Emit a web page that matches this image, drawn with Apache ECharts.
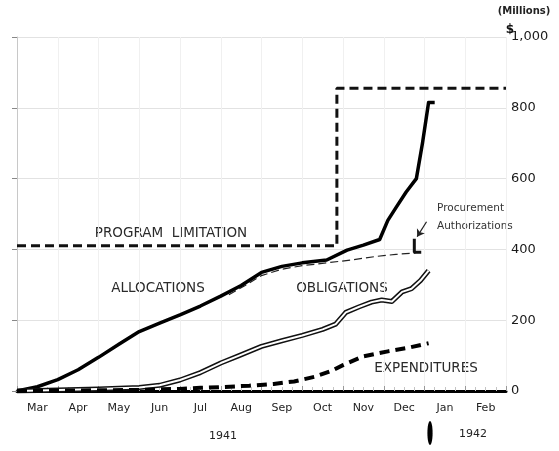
<!DOCTYPE html>
<html>
<head>
<meta charset="utf-8">
<script src="https://cdn.jsdelivr.net/npm/echarts@6/dist/echarts.min.js"></script>
<style>
  html, body { margin: 0; padding: 0; background: #fff; }
  #chart { width: 559px; height: 451px; }
</style>
</head>
<body>
<div id="chart"></div>
<script>
// x = months since 1 Mar 1941, y = $ millions
const months = ['Mar', 'Apr', 'May', 'Jun', 'Jul', 'Aug', 'Sep', 'Oct', 'Nov', 'Dec', 'Jan', 'Feb']
const yearLabels = ['1941', '1942']

const programLimitation = [[0, 410], [7.85, 410], [7.85, 855], [12, 855]]

const allocations = [
  [0, 0], [0.5, 12], [1.0, 32], [1.5, 60], [2.0, 95], [2.5, 132], [3.0, 168],
  [3.5, 192], [4.0, 215], [4.5, 240], [5.0, 268], [5.5, 298], [6.0, 335],
  [6.5, 352], [7.0, 362], [7.6, 370], [8.1, 398], [8.5, 412], [8.9, 428],
  [9.1, 482], [9.3, 518], [9.55, 562], [9.8, 600], [9.95, 700], [10.1, 815], [10.25, 815],
]

const authorizations = [
  [5.2, 272], [5.6, 298], [6.0, 326], [6.5, 344], [7.0, 354], [7.6, 362],
  [8.2, 370], [8.8, 380], [9.3, 386], [9.78, 390],
]
const authorizationsBracket = [[9.75, 430], [9.75, 392], [9.92, 392]]

const obligations = [
  [0, 0], [1.0, 3], [2.0, 6], [3.0, 10], [3.5, 16], [4.0, 31], [4.5, 52],
  [5.0, 79], [5.45, 100], [6.0, 126], [6.5, 142], [7.0, 157], [7.5, 174],
  [7.82, 189], [8.07, 222], [8.4, 238], [8.7, 251], [8.95, 257], [9.2, 253],
  [9.45, 280], [9.68, 289], [9.9, 312], [10.1, 340],
]

const expenditures = [
  [0, 0], [2.0, 2], [3.0, 3], [4.0, 6], [4.5, 9], [5.0, 11], [5.7, 15],
  [6.3, 20], [6.8, 27], [7.3, 40], [7.7, 56], [8.0, 73], [8.5, 98],
  [9.1, 112], [9.6, 122], [10.1, 135],
]

const chart = echarts.init(document.getElementById('chart'))

const labelFont = { fontFamily: 'DejaVu Sans', fontSize: 13.5, fill: '#2a2a2a' }

chart.setOption({
  animation: false,
  backgroundColor: '#fff',
  grid: { left: 17, right: 53, top: 37, bottom: 60 },
  xAxis: [
    {
      type: 'value',
      min: 0,
      max: 12,
      interval: 1,
      axisLabel: { show: false },
      axisLine: { lineStyle: { color: '#000', width: 3 } },
      axisTick: { show: true, inside: true, length: 5, lineStyle: { color: '#999' } },
      minorTick: { show: true, splitNumber: 4, length: 4, lineStyle: { color: '#c4c4c4' } },
      splitLine: { lineStyle: { color: '#f0f0f0', width: 1 } },
    },
    {
      type: 'category',
      position: 'bottom',
      data: months,
      boundaryGap: true,
      axisLine: { show: false },
      axisTick: { show: false },
      axisLabel: { margin: 12, color: '#222', fontSize: 11, fontFamily: 'DejaVu Sans' },
    },
  ],
  yAxis: {
    type: 'value',
    position: 'right',
    min: 0,
    max: 1000,
    interval: 200,
    axisLine: { show: true, lineStyle: { color: '#c8c8c8', width: 1 } },
    axisTick: { show: true, inside: true, length: 5, lineStyle: { color: '#888' } },
    axisLabel: {
      margin: 5,
      color: '#1a1a1a',
      fontSize: 13,
      fontFamily: 'DejaVu Sans',
      formatter: (v) => (v === 1000 ? '1,000' : String(v)),
    },
    splitLine: { lineStyle: { color: '#e2e2e2', width: 1 } },
  },
  series: [
    {
      name: 'Program limitation',
      type: 'line',
      data: programLimitation,
      showSymbol: false,
      lineStyle: { color: '#111', width: 3, type: [9, 5] },
    },
    {
      name: 'Procurement authorizations',
      type: 'line',
      data: authorizations,
      showSymbol: false,
      lineStyle: { color: '#222', width: 1.2, type: [8, 4] },
      markLine: {
        silent: true,
        symbol: ['none', 'arrow'],
        symbolSize: 7,
        label: { show: false },
        lineStyle: { color: '#222', width: 1.2, type: 'solid', curveness: 0.25 },
        data: [[{ coord: [10.05, 478] }, { coord: [9.82, 436] }]],
      },
    },
    {
      name: 'Authorizations bracket',
      type: 'line',
      data: authorizationsBracket,
      showSymbol: false,
      lineStyle: { color: '#111', width: 3 },
    },
    {
      name: 'Allocations',
      type: 'line',
      data: allocations,
      showSymbol: false,
      lineStyle: { color: '#000', width: 3.5, join: 'round' },
    },
    {
      name: 'Obligations',
      type: 'line',
      data: obligations,
      showSymbol: false,
      lineStyle: { color: '#111', width: 5, join: 'round' },
    },
    {
      name: 'Obligations inner',
      type: 'line',
      data: obligations,
      showSymbol: false,
      lineStyle: { color: '#fff', width: 2, join: 'round' },
    },
    {
      name: 'Expenditures',
      type: 'line',
      data: expenditures,
      showSymbol: false,
      lineStyle: { color: '#000', width: 4, type: [10, 6] },
    },
  ],
  graphic: [
    { type: 'text', x: 171, y: 233, style: { ...labelFont, text: 'PROGRAM  LIMITATION', align: 'center', verticalAlign: 'middle' } },
    { type: 'text', x: 158, y: 288, style: { ...labelFont, text: 'ALLOCATIONS', align: 'center', verticalAlign: 'middle' } },
    { type: 'text', x: 342, y: 288, style: { ...labelFont, text: 'OBLIGATIONS', align: 'center', verticalAlign: 'middle' } },
    { type: 'text', x: 426, y: 368, style: { ...labelFont, text: 'EXPENDITURES', align: 'center', verticalAlign: 'middle' } },
    { type: 'text', x: 437, y: 208, style: { fontFamily: 'DejaVu Sans', fontSize: 10.5, fill: '#333', text: 'Procurement', verticalAlign: 'middle' } },
    { type: 'text', x: 437, y: 226, style: { fontFamily: 'DejaVu Sans', fontSize: 10.5, fill: '#333', text: 'Authorizations', verticalAlign: 'middle' } },
    { type: 'text', x: 524, y: 11, style: { fontFamily: 'DejaVu Sans', fontSize: 10, fontWeight: 'bold', fill: '#222', text: '(Millions)', align: 'center', verticalAlign: 'middle' } },
    { type: 'text', x: 510, y: 30, style: { fontFamily: 'DejaVu Sans', fontSize: 12, fontWeight: 'bold', fill: '#111', text: '$', align: 'center', verticalAlign: 'middle' } },
    { type: 'text', x: 223, y: 436, style: { fontFamily: 'DejaVu Sans', fontSize: 11, fill: '#222', text: yearLabels[0], align: 'center', verticalAlign: 'middle' } },
    { type: 'text', x: 473, y: 434, style: { fontFamily: 'DejaVu Sans', fontSize: 11, fill: '#222', text: yearLabels[1], align: 'center', verticalAlign: 'middle' } },
    { type: 'ellipse', shape: { cx: 430, cy: 433, rx: 2.6, ry: 12 }, style: { fill: '#000' } },
  ],
})
</script>
</body>
</html>
